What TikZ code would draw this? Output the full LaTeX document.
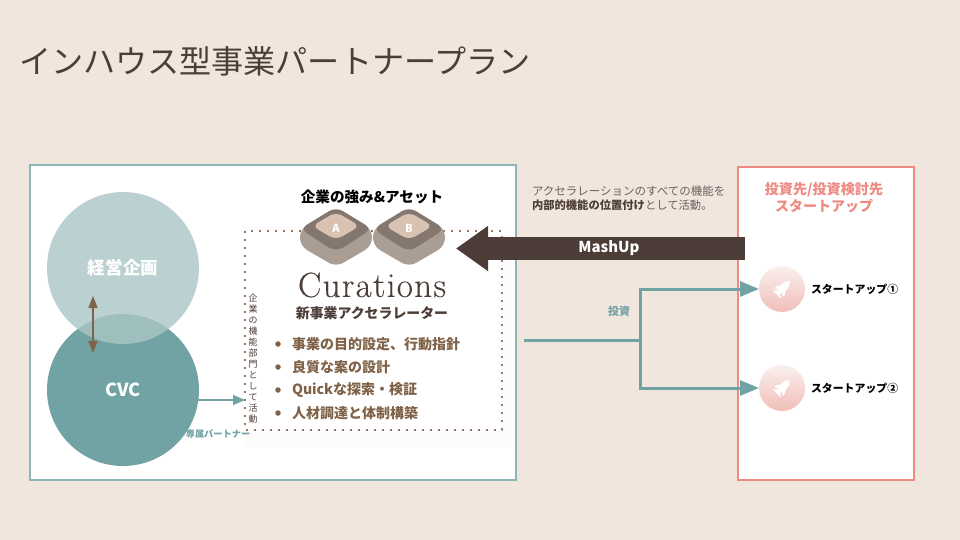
\documentclass[tikz,border=0pt]{standalone}
\usepackage{fontspec}
\setmainfont{Noto Sans CJK JP}
\newfontfamily\curfont[LetterSpace=3.8,FakeBold=0.25]{Latin Modern Roman}
\definecolor{mybg}{RGB}{240,230,222}
\definecolor{myteal}{RGB}{114,163,164}
\definecolor{myframe}{RGB}{140,181,181}
\definecolor{mypink}{RGB}{238,138,130}
\definecolor{mydark}{RGB}{77,61,56}
\definecolor{mybrown}{RGB}{127,98,71}
\definecolor{mydots}{RGB}{150,120,100}
\definecolor{mygraytxt}{RGB}{105,97,92}
\definecolor{mycircle}{RGB}{171,198,198}
\definecolor{mycube}{RGB}{132,119,111}
\definecolor{mycubeside}{RGB}{170,157,147}
\definecolor{mycubetop}{RGB}{217,194,178}
\definecolor{myrocktop}{RGB}{250,240,237}
\definecolor{myrockbot}{RGB}{241,190,184}
\usetikzlibrary{arrows.meta,positioning,calc}
\newcommand{\jpsize}[1]{\fontsize{#1}{#1}\selectfont}

\begin{document}
\begin{tikzpicture}[x=1pt,y=-1pt,
        every node/.style={inner sep=0pt,outer sep=0pt},
        bullettxt/.style={anchor=west,text=mybrown,font=\jpsize{14}\bfseries},
        bulletdot/.style={circle,fill=mybrown,minimum size=5.5pt},
        startuptxt/.style={anchor=west,font=\jpsize{10.9}\bfseries},
        rocknode/.style={circle,minimum size=46pt,top color=myrocktop,bottom color=myrockbot},
        invest/.style={draw=myteal,line width=3pt},
        investtip/.style={-{Triangle[length=19pt,width=15pt]}}
        ]
        \useasboundingbox (0,0) rectangle (960,540);
        \fill[mybg] (0,0) rectangle (960,540);

        % the title
        \node[anchor=west,text=mydark,font=\jpsize{32.1}] (title) at (19,61) {インハウス型事業パートナープラン};

        % the frames
        \draw[myframe,line width=2pt,fill=white] (29.5,165) rectangle (516,480);
        \draw[mypink,line width=2pt,fill=white] (738,167) rectangle (914,480);

        % the dotted box
        \fill[black!1] (245,231) rectangle (513,447);
        \fill[white] (245,231) rectangle (502,430);
        \draw[mydots,line width=2pt,dash pattern=on 2pt off 6pt] (245,231) rectangle (502,430);

        % the circles
        \node[circle,fill=myteal,minimum size=152pt] (cvc) at (123,390) {};
        \node[circle,fill=mycircle,fill opacity=.8,minimum size=152pt] (plan) at (123,268) {};
        \node[text=white,font=\jpsize{17.6}\bfseries] (plantxt) at (123,268) {経営企画};
        \node[text=white,font=\jpsize{18}\bfseries] (cvctxt) at (123,390) {CVC};
        \coordinate (link1) at (93,296);
        \coordinate (link2) at (93,353);
        \draw[mybrown,line width=1.5pt,{Triangle[length=12pt,width=9pt]}-{Triangle[length=12pt,width=9pt]}] (link1) -- (link2);

        % the cubes
        \foreach \name/\x in {A/336,B/409}{
          \begin{scope}[shift={(\x,0)}]
          \fill[mycubeside,rounded corners=8pt] (0,207) -- (36,229) -- (36,246) -- (0,267) -- (-36,246) -- (-36,229) -- cycle;
          \fill[mycube,rounded corners=8pt] (0,207) -- (36,229) -- (0,252) -- (-36,229) -- cycle;
          \fill[mycubetop,rounded corners=7pt] (0,212) -- (24,226) -- (0,240) -- (-24,226) -- cycle;
          \node[text=white,font=\jpsize{11}\bfseries] (cube\name) at (0,228) {\name};
          \end{scope}
        }

        % the texts of the box
        \node[font=\jpsize{14.6}\bfseries] (assets) at (372,197) {企業の強み\&アセット};
        \node[text=mydark,font=\curfont\fontsize{35}{35}\selectfont] (curations) at (372,285) {Curations};
        \node[text=mydark,font=\jpsize{13.9}\bfseries] (accel) at (372,313) {新事業アクセラレーター};
        \foreach \i/\y/\txt in {1/344/事業の目的設定、行動指針,2/367/良質な案の設計,3/390/Quickな探索・検証,4/413/人材調達と体制構築}{
          \node[bulletdot] (dot\i) at (278,\y) {};
          \node[bullettxt] (item\i) at (292,\y) {\txt};
        }
        \node[align=center,text=mydark,font=\fontsize{9}{11}\selectfont] (side) at (253,359)
          {企\\業\\の\\機\\能\\部\\門\\と\\し\\て\\活\\動};
        \coordinate (boxedge) at (245,400);
        \coordinate (cvcedge) at (198,400);
        \draw[myteal,line width=1.8pt,-{Triangle[length=12pt,width=10pt]}] (cvcedge) -- (boxedge);
        \node[text=myteal,font=\jpsize{9.2}\bfseries] (partner) at (218,434) {専属パートナー};

        % the note
        \node[anchor=west,text=mygraytxt,font=\jpsize{11.5}] (note1) at (532,191) {アクセラレーションのすべての機能を};
        \node[anchor=west,text=mygraytxt,font=\jpsize{11.3}] (note2) at (532,205) {\textcolor{mydark}{\bfseries 内部的機能の位置付け}として活動。};

        % the big arrow
        \coordinate (mashend) at (745,248.5);
        \coordinate (mashtip) at (456,248.5);
        \draw[mydark,line width=23pt,-{Triangle[length=32pt,width=43pt]}] (mashend) -- (mashtip);
        \node[text=white,font=\jpsize{15}\bfseries] (mashup) at (609,248) {MashUp};

        % the startups
        \node[text=mypink,font=\jpsize{14.1}\bfseries] (head1) at (824,190) {投資先/投資検討先};
        \node[text=mypink,font=\jpsize{14}\bfseries] (head2) at (824,206) {スタートアップ};
        \foreach \i/\y/\mark in {1/289/①,2/388/②}{
          \node[rocknode] (rock\i) at (782,\y) {};
          \node[startuptxt,right=6pt of rock\i] (start\i) {スタートアップ\mark};
          \begin{scope}[shift={(rock\i)},rotate=-45]
          \fill[white] (0,-11) .. controls (4,-8) and (4.5,-3) .. (3,3) -- (-3,3) .. controls (-4.5,-3) and (-4,-8) .. (0,-11) -- cycle;
          \fill[white] (-3,-2) -- (-6,2) -- (-6,5) -- (-3,3) -- cycle;
          \fill[white] (3,-2) -- (6,2) -- (6,5) -- (3,3) -- cycle;
          \fill[white] (-5,6) rectangle (5,7.5);
          \fill[white] (-2.5,3) rectangle (2.5,6);
          \end{scope}
        }

        % the edges
        \coordinate (investstart) at (524,340);
        \coordinate (investfork) at (640,340);
        \draw[invest] (investstart) -- (investfork);
        \draw[invest,investtip] (investfork) |- (rock1.west);
        \draw[invest,investtip] (investfork) |- (rock2.west);
        \node[text=myteal,font=\jpsize{11}\bfseries] (invtxt) at (619,311) {投資};
        \end{tikzpicture}
\end{document}
